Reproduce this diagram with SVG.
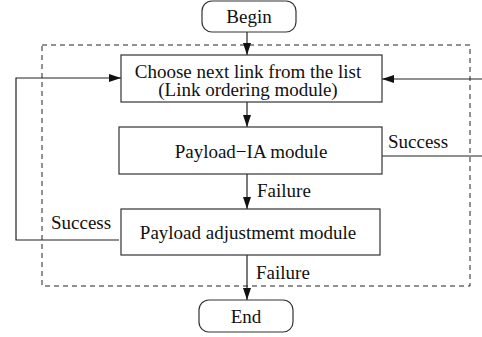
<svg xmlns="http://www.w3.org/2000/svg" width="482" height="337" viewBox="0 0 482 337">
<style>
.box{fill:#fff;stroke:#333;stroke-width:1.2}
.ln{fill:none;stroke:#222;stroke-width:1.2}
.dash{fill:none;stroke:#222;stroke-width:1;stroke-dasharray:5,4}
text{font-family:"Liberation Serif","Times New Roman",serif;font-size:19px;fill:#111}
.c{text-anchor:middle}
</style>
<defs>
<marker id="ah" markerWidth="12" markerHeight="8" refX="12" refY="4" orient="auto" markerUnits="userSpaceOnUse">
<path d="M0,0 L12,4 L0,8 z" fill="#111"/>
</marker>
</defs>
<rect class="dash" x="42" y="45" width="428" height="241"/>
<g id="connectors">
<path class="ln" d="M247,32 V55" marker-end="url(#ah)"/>
<path class="ln" d="M247,102 V127" marker-end="url(#ah)"/>
<path class="ln" d="M247,174 V209" marker-end="url(#ah)"/>
<path class="ln" d="M247,255 V300" marker-end="url(#ah)"/>
<path class="ln" d="M119,240 H16 V78 H121" marker-end="url(#ah)"/>
<path class="ln" d="M482,79 H382" marker-end="url(#ah)"/>
<path class="ln" d="M382,156 H482"/>
<text x="257" y="197">Failure</text>
<text x="256" y="279">Failure</text>
<text x="388" y="148">Success</text>
<text x="51" y="229">Success</text>
</g>
<g id="begin">
<rect class="box" x="202" y="1" width="94" height="31" rx="10"/>
<text class="c" x="249" y="23">Begin</text>
</g>
<g id="choose">
<rect class="box" x="121" y="55" width="261" height="47"/>
<text class="c" x="248" y="78">Choose next link from the list</text>
<text class="c" x="248" y="96">(Link ordering module)</text>
</g>
<g id="payloadia">
<rect class="box" x="119" y="127" width="263" height="47"/>
<text class="c" x="251" y="158">Payload−IA module</text>
</g>
<g id="payloadadj">
<rect class="box" x="121" y="209" width="259" height="46"/>
<text class="c" x="248" y="239">Payload adjustmemt module</text>
</g>
<g id="end">
<rect class="box" x="199" y="300" width="94" height="32" rx="10"/>
<text class="c" x="246" y="323">End</text>
</g>
</svg>
